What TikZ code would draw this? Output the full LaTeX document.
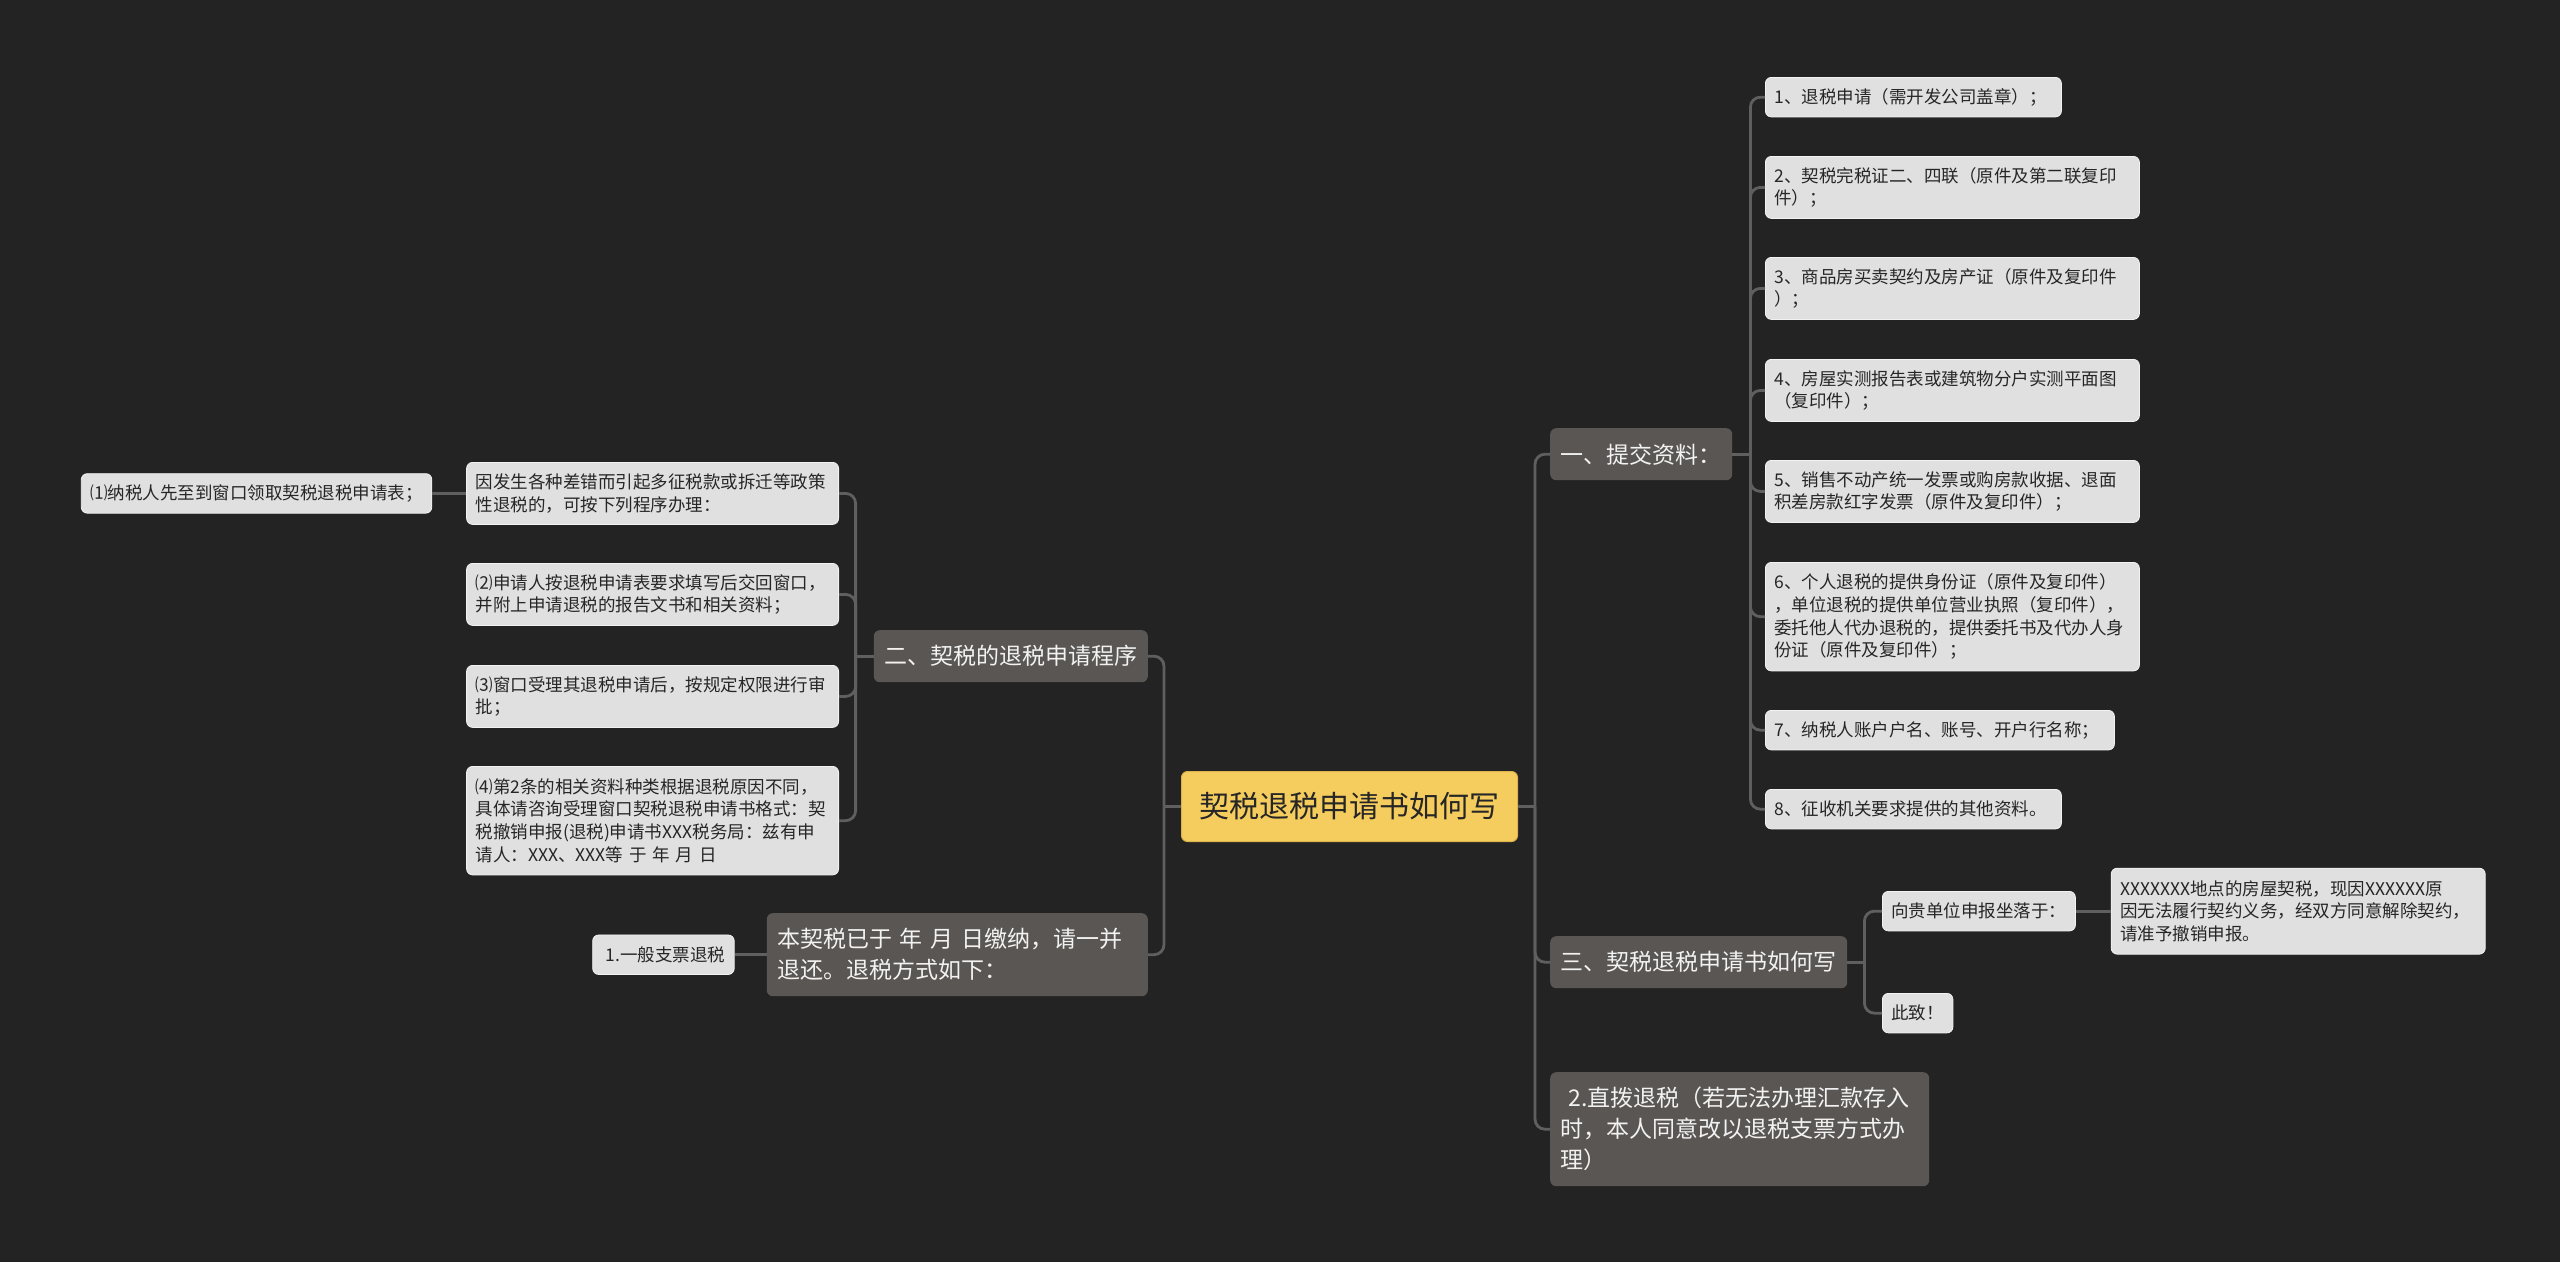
\documentclass[tikz,border=0pt]{standalone}
\usepackage{fontspec}
\setmainfont{Noto Sans CJK SC}
\usepackage{tikz}
\usetikzlibrary{positioning}

\definecolor{bgdark}{HTML}{232323}
\definecolor{rootfill}{HTML}{F5CD5F}
\definecolor{rootedge}{HTML}{DDB44C}
\definecolor{branchfill}{HTML}{5A5653}
\definecolor{leaffill}{HTML}{E0E0E0}
\definecolor{leafedge}{HTML}{F2F2F2}
\definecolor{linkgrey}{HTML}{5F5F5F}
\definecolor{inkdark}{HTML}{262626}
\definecolor{inklight}{HTML}{F2F2F2}

\begin{document}
\begin{tikzpicture}[x=1pt, y=-1pt,
  root/.style={anchor=north west, fill=rootfill, draw=rootedge, line width=1pt, rounded corners=6pt,
    text=inkdark, font=\fontsize{30}{36}\selectfont, inner xsep=18pt, minimum height=70pt},
  branch/.style={anchor=north west, fill=branchfill, rounded corners=6pt, text=inklight,
    font=\fontsize{23}{31}\selectfont, inner xsep=10.5pt, inner ysep=4pt, minimum height=52pt, align=left},
  leaf/.style={anchor=north west, fill=leaffill, draw=leafedge, line width=0.8pt, rounded corners=6pt,
    text=inkdark, font=\fontsize{17.5}{22.7}\selectfont, inner xsep=9pt, inner ysep=3pt,
    minimum height=39.5pt, align=left},
  link/.style={draw=linkgrey, line width=2.8pt, rounded corners=10pt}]

  % Background
  \fill[bgdark] (0,0) rectangle (2560,1262);
  \useasboundingbox (0,0) rectangle (2560,1262);

  % Central topic
  \node[root] (root) at (1181,771) {契税退税申请书如何写};

  % Main branches, right
  \node[branch] (b1) at (1550,428) {一、提交资料：};
  \node[branch] (b3) at (1550,936) {三、契税退税申请书如何写};
  \node[branch, text width=358pt, minimum height=114pt] (b4) at (1550,1072)
    {~2.直拨退税（若无法办理汇款存入\\时，本人同意改以退税支票方式办\\理）};

  % Main branches, left
  \node[branch, anchor=north east] (b2) at (1148,630) {二、契税的退税申请程序};
  \node[branch, anchor=north east, text width=360pt, minimum height=83pt] (b5) at (1148,913)
    {本契税已于 年 月 日缴纳，请一并\\退还。退税方式如下：};

  \draw[link] (root.east) -- ++(17,0) coordinate (rr);
  \foreach \b in {b1,b3,b4}
    \draw[link] (rr) |- (\b.west);
  \draw[link] (root.west) -- ++(-17,0) coordinate (rl);
  \foreach \b in {b2,b5}
    \draw[link] (rl) |- (\b.east);

  % Documents to hand in
  \draw[link] (b1.east) -- ++(18,0) coordinate (j1);
  \foreach \i/\y/\w/\h/\txt in {
    1/77/278/39.5/{1、退税申请（需开发公司盖章）；},
    2/156/356/62/{2、契税完税证二、四联（原件及第二联复印\\件）；},
    3/257/356/62/{3、商品房买卖契约及房产证（原件及复印件\\）；},
    4/359/356/62/{4、房屋实测报告表或建筑物分户实测平面图\\（复印件）；},
    5/460/356/62/{5、销售不动产统一发票或购房款收据、退面\\积差房款红字发票（原件及复印件）；},
    6/562/356/108.5/{6、个人退税的提供身份证（原件及复印件）\\，单位退税的提供单位营业执照（复印件），\\委托他人代办退税的，提供委托书及代办人身\\份证（原件及复印件）；},
    7/710/331/39.5/{7、纳税人账户户名、账号、开户行名称；},
    8/789/278/39.5/{8、征收机关要求提供的其他资料。}}
  {
    \node[leaf, text width=\w pt, minimum height=\h pt] (r\i) at (1765,\y) {\txt};
    \draw[link] (j1) |- (r\i.west);
  }

  % Letter
  \draw[link] (b3.east) -- ++(17,0) coordinate (j3);
  \node[leaf] (t1) at (1882,891) {向贵单位申报坐落于：};
  \node[leaf] (t2) at (1882,993) {此致！};
  \foreach \t in {t1,t2}
    \draw[link] (j3) |- (\t.west);
  \node[leaf, right=35pt of t1, text width=356pt, minimum height=86pt] (t3)
    {XXXXXXX地点的房屋契税，现因XXXXXX原\\因无法履行契约义务，经双方同意解除契约，\\请准予撤销申报。};
  \draw[link] (t1.east) -- (t3.west);

  % Procedure
  \draw[link] (b2.west) -- ++(-18,0) coordinate (j2);
  \foreach \i/\y/\h/\txt in {
    0/462/62/{因发生各种差错而引起多征税款或拆迁等政策\\性退税的，可按下列程序办理：},
    2/563/62/{⑵申请人按退税申请表要求填写后交回窗口，\\并附上申请退税的报告文书和相关资料；},
    3/665/62/{⑶窗口受理其退税申请后，按规定权限进行审\\批；},
    4/766/108.5/{⑷第2条的相关资料种类根据退税原因不同，\\具体请咨询受理窗口契税退税申请书格式：契\\税撤销申报(退税)申请书XXX税务局：兹有申\\请人：XXX、XXX等 于 年 月 日}}
  {
    \node[leaf, anchor=north east, text width=354pt, minimum height=\h pt] (l\i) at (839,\y) {\txt};
    \draw[link] (j2) |- (l\i.east);
  }
  \node[leaf, left=34pt of l0] (l1) {⑴纳税人先至到窗口领取契税退税申请表；};
  \draw[link] (l0.west) -- (l1.east);

  % Refund by cheque
  \node[leaf, left=32pt of b5] (c1) {~1.一般支票退税};
  \draw[link] (b5.west) -- (c1.east);

\end{tikzpicture}
\end{document}
